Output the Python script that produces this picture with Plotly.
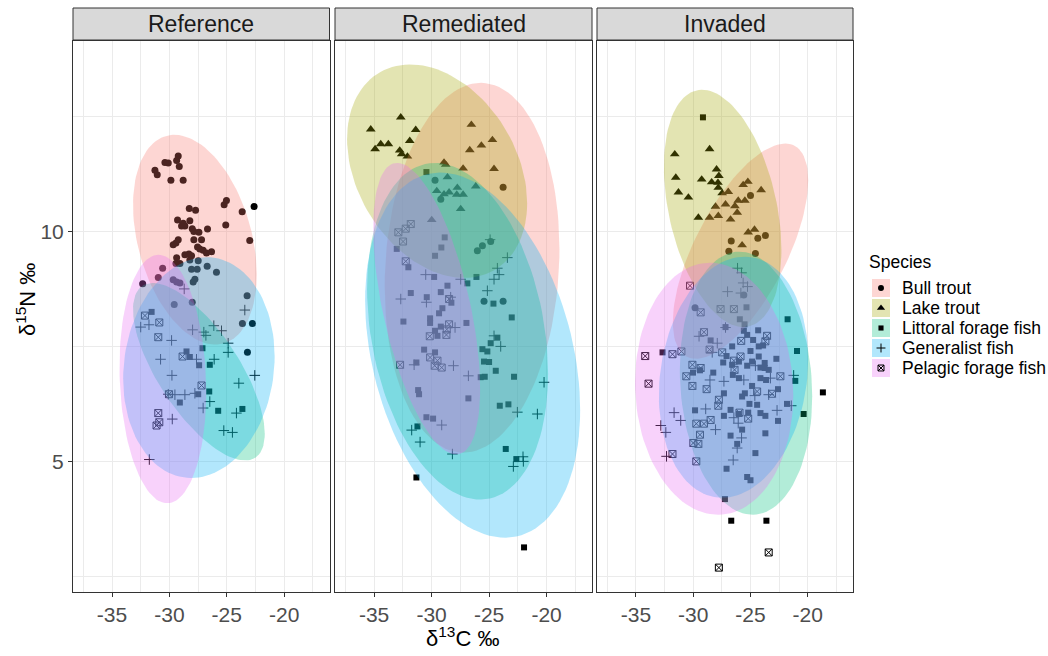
import numpy as np
import plotly.graph_objects as go

# ---- categories and styling keys ----
species = ["Bull trout", "Lake trout", "Littoral forage fish", "Generalist fish", "Pelagic forage fish"]
species_colors = ["#F8766D", "#A3A500", "#00BF7D", "#00B0F6", "#E76BF3"]
species_symbols = ["circle", "triangle-up", "square", "cross-thin-open", "square-x-open"]
sites = ["Reference", "Remediated", "Invaded"]
x_ticks = [-35, -30, -25, -20]
x_tick_labels = ["-35", "-30", "-25", "-20"]
y_ticks = [5, 10]
y_tick_labels = ["5", "10"]

# ---- isotope values (d13C, d15N) per site and species ----
ref_bull = [(-29.23, 11.65), (-29.37, 11.55), (-29.14, 11.42), (-30.39, 11.51), (-30.10, 11.50), (-31.26, 11.34),
            (-31.06, 11.24), (-29.87, 11.12), (-28.80, 11.12), (-25.03, 10.68), (-25.23, 10.59), (-22.62, 10.55),
            (-23.66, 10.44), (-28.27, 10.51), (-27.72, 10.47), (-25.09, 10.15), (-29.29, 10.26), (-28.80, 10.19),
            (-28.22, 10.24), (-28.65, 10.13), (-28.94, 10.13), (-28.01, 10.07), (-27.87, 10.01), (-27.43, 9.99),
            (-26.68, 10.06), (-23.00, 9.81), (-27.87, 9.83), (-27.20, 9.83), (-29.23, 9.83), (-29.43, 9.76),
            (-29.67, 9.72), (-27.55, 9.67), (-27.35, 9.63), (-27.06, 9.60), (-26.33, 9.57), (-26.77, 9.54),
            (-28.65, 9.50), (-28.30, 9.52), (-28.07, 9.48), (-29.37, 9.44), (-29.43, 9.31), (-29.08, 9.31),
            (-28.22, 9.39), (-27.49, 9.37), (-30.59, 9.21), (-28.07, 9.19), (-27.58, 9.19), (-26.71, 9.25),
            (-25.90, 9.12), (-27.78, 8.97), (-27.93, 8.91), (-30.97, 9.01), (-29.67, 8.96), (-29.37, 8.91),
            (-29.08, 8.89), (-32.33, 8.87), (-23.23, 8.61), (-29.58, 8.42), (-28.01, 8.47), (-23.64, 8.01),
            (-22.77, 8.01), (-23.20, 7.38)]
ref_lake = []
ref_littoral = [(-31.55, 8.26), (-28.51, 7.40), (-28.22, 7.28), (-27.12, 7.47), (-27.41, 7.10), (-26.48, 7.11),
                (-26.53, 6.53), (-27.49, 6.47), (-29.09, 6.29), (-25.75, 6.11), (-23.64, 6.15)]
ref_generalist = [(-28.71, 8.76), (-23.43, 8.30), (-32.50, 7.93), (-31.78, 7.98), (-26.13, 7.96), (-25.46, 7.85),
                  (-27.98, 7.87), (-27.00, 7.82), (-26.82, 7.75), (-29.81, 7.64), (-24.88, 7.58), (-24.88, 7.38),
                  (-26.10, 7.23), (-30.77, 7.23), (-27.64, 7.23), (-29.78, 6.88), (-22.56, 6.88), (-23.95, 6.71),
                  (-30.10, 6.47), (-29.52, 6.46), (-28.65, 6.46), (-27.78, 6.49), (-26.48, 6.31), (-27.06, 6.17),
                  (-24.16, 6.06), (-29.75, 5.93), (-25.26, 5.68), (-24.51, 5.64), (-31.75, 5.05)]
ref_pelagic = [(-32.13, 8.18), (-30.88, 8.03), (-30.97, 7.71), (-28.85, 7.29), (-27.20, 6.66), (-30.04, 6.47),
               (-30.97, 6.06), (-30.88, 5.86), (-31.12, 5.79)]

rem_bull = [(-29.70, 11.12), (-29.20, 10.71), (-23.78, 10.97), (-26.02, 9.59), (-25.58, 9.70), (-24.86, 9.79),
            (-25.44, 8.49), (-23.78, 8.49)]
rem_lake = [(-35.29, 12.23), (-32.68, 12.49), (-31.38, 12.22), (-31.90, 11.98), (-34.42, 11.91), (-33.76, 11.91),
            (-34.91, 11.80), (-32.77, 11.77), (-32.60, 11.69), (-32.10, 11.64), (-26.54, 12.33), (-24.71, 12.00),
            (-25.67, 11.88), (-26.68, 11.78), (-28.92, 11.51), (-28.77, 11.46), (-27.26, 11.38), (-24.57, 11.37),
            (-28.62, 11.19), (-27.76, 10.96), (-29.55, 10.89), (-26.16, 10.99), (-28.48, 10.86), (-28.92, 10.82),
            (-27.81, 10.81), (-27.26, 10.81), (-27.47, 10.50), (-29.99, 10.26)]
rem_littoral = [(-30.45, 11.30), (-28.86, 9.88), (-33.03, 9.63), (-29.15, 9.66), (-29.70, 9.48), (-32.02, 9.23),
                (-29.78, 9.02), (-28.62, 8.83), (-26.89, 8.88), (-26.10, 9.02), (-31.81, 8.67), (-30.42, 8.58),
                (-29.20, 8.69), (-28.28, 8.46), (-29.06, 8.34), (-29.35, 8.23), (-30.13, 8.12), (-30.13, 8.02),
                (-32.45, 8.05), (-26.97, 8.02), (-24.62, 8.44), (-23.03, 8.14), (-29.20, 7.94), (-29.70, 7.85),
                (-29.49, 7.74), (-24.28, 7.70), (-24.86, 7.58), (-25.58, 7.45), (-25.15, 7.40), (-30.65, 7.44),
                (-29.70, 7.38), (-31.32, 7.16), (-31.17, 6.56), (-31.09, 6.47), (-26.80, 6.38), (-30.45, 5.97),
                (-29.87, 5.94), (-31.23, 5.77), (-25.73, 6.84), (-25.38, 6.85), (-24.42, 6.98), (-22.83, 6.85),
                (-25.44, 7.18), (-25.00, 7.17), (-24.07, 6.22), (-23.32, 6.25), (-23.55, 5.28), (-22.63, 5.06),
                (-31.32, 4.66), (-21.96, 3.14)]
rem_generalist = [(-24.91, 9.83), (-23.41, 9.44), (-24.28, 9.21), (-24.13, 9.07), (-24.57, 8.97), (-30.51, 9.07),
                  (-27.47, 8.97), (-25.15, 8.72), (-32.68, 8.54), (-30.45, 8.47), (-28.34, 8.58), (-27.96, 7.92),
                  (-24.57, 7.74), (-23.99, 7.51), (-31.52, 7.11), (-28.10, 7.09), (-26.80, 6.87), (-20.22, 6.73),
                  (-22.54, 6.08), (-20.80, 6.04), (-29.12, 5.80), (-31.73, 5.69), (-31.00, 5.43), (-28.19, 5.17),
                  (-22.05, 5.11), (-22.02, 5.01), (-22.89, 4.90)]
rem_pelagic = [(-31.81, 10.17), (-32.25, 10.07), (-32.89, 9.99), (-32.48, 9.79), (-32.25, 9.36), (-28.48, 8.54),
               (-28.48, 7.99), (-28.68, 7.88), (-30.16, 7.73), (-28.71, 7.76), (-32.74, 7.11), (-30.13, 7.27),
               (-29.49, 7.20), (-29.73, 7.09), (-29.12, 7.05)]

inv_bull = [(-25.00, 10.79), (-23.70, 9.92), (-24.36, 9.86), (-26.68, 9.80), (-26.89, 9.58), (-24.57, 9.53),
            (-25.58, 8.63), (-29.84, 8.35)]
inv_lake = [(-31.61, 11.69), (-28.57, 11.80), (-27.96, 11.36), (-27.76, 11.22), (-31.52, 11.18), (-29.26, 11.14),
            (-28.39, 11.08), (-27.84, 11.07), (-27.81, 10.96), (-31.29, 10.86), (-30.42, 10.75), (-27.47, 10.84),
            (-26.94, 10.87), (-25.64, 11.02), (-25.23, 11.09), (-24.07, 10.91), (-28.05, 10.55), (-27.18, 10.60),
            (-26.36, 10.56), (-26.07, 10.68), (-25.49, 10.68), (-26.16, 10.42), (-29.55, 10.31), (-28.57, 10.31),
            (-27.81, 10.35), (-26.74, 10.27), (-25.20, 9.99), (-24.65, 10.05), (-25.73, 9.71)]
inv_littoral = [(-29.15, 12.49), (-25.35, 8.36), (-25.93, 8.10), (-25.52, 7.99), (-27.18, 7.93), (-25.58, 7.85),
                (-24.33, 7.86), (-25.29, 7.76), (-24.77, 7.65), (-28.48, 7.64), (-26.60, 7.51), (-24.28, 7.51),
                (-23.90, 7.53), (-25.00, 7.41), (-27.09, 7.30), (-22.74, 7.24), (-20.94, 7.41), (-21.76, 8.10),
                (-27.38, 7.16), (-24.28, 7.29), (-24.86, 7.18), (-25.29, 7.09), (-23.76, 7.15), (-23.41, 7.00),
                (-24.13, 7.05), (-23.76, 7.04), (-26.60, 7.11), (-26.01, 7.18), (-28.25, 6.94), (-29.41, 6.99),
                (-30.02, 6.94), (-26.54, 6.89), (-26.01, 6.82), (-24.13, 6.82), (-23.64, 6.78), (-24.86, 6.65),
                (-22.60, 6.58), (-25.49, 6.49), (-27.32, 6.49), (-25.73, 6.42), (-25.09, 6.26), (-24.42, 6.24),
                (-26.74, 6.13), (-27.32, 6.00), (-25.20, 6.07), (-24.13, 6.06), (-23.70, 6.00), (-22.60, 5.89),
                (-26.01, 6.04), (-29.84, 6.12), (-21.81, 6.26), (-25.73, 5.70), (-26.74, 5.57), (-26.16, 5.39),
                (-23.70, 5.62), (-24.57, 5.19), (-27.09, 4.85), (-25.29, 4.67), (-25.00, 4.60), (-27.23, 4.19),
                (-21.09, 6.76), (-32.68, 7.38), (-18.68, 6.51), (-20.36, 6.04), (-26.68, 3.72), (-23.61, 3.72)]
inv_generalist = [(-26.13, 9.21), (-25.78, 9.11), (-25.64, 8.89), (-25.26, 8.81), (-27.00, 8.70), (-25.84, 8.67),
                  (-29.49, 7.73), (-27.90, 7.58), (-28.34, 7.38), (-27.18, 7.92), (-24.57, 7.09), (-21.23, 6.88),
                  (-23.26, 6.82), (-28.54, 6.78), (-27.32, 6.75), (-25.58, 6.78), (-23.41, 6.46), (-21.44, 6.22),
                  (-22.68, 6.12), (-31.67, 6.07), (-31.09, 5.90), (-32.83, 5.79), (-32.39, 5.64), (-32.33, 5.12),
                  (-28.91, 6.15), (-28.05, 5.70), (-26.07, 5.84), (-25.78, 5.52), (-26.16, 5.30), (-26.51, 5.04),
                  (-24.62, 6.44), (-26.45, 5.96)]
inv_pelagic = [(-30.28, 8.83), (-29.35, 8.25), (-27.61, 8.32), (-26.45, 8.32), (-29.06, 7.82), (-23.55, 7.74),
               (-23.70, 7.62), (-25.81, 7.63), (-28.57, 7.44), (-27.47, 7.38), (-25.87, 7.29), (-31.81, 7.34),
               (-31.03, 7.40), (-34.19, 7.30), (-33.90, 6.70), (-30.07, 7.11), (-29.35, 7.04), (-30.60, 6.86),
               (-30.07, 6.65), (-28.83, 6.58), (-22.39, 6.86), (-24.42, 6.53), (-23.12, 6.48), (-27.76, 6.35),
               (-27.81, 6.22), (-28.48, 5.91), (-29.06, 5.83), (-29.73, 5.83), (-25.20, 5.94), (-25.96, 6.07),
               (-29.41, 5.59), (-29.99, 5.41), (-29.55, 5.39), (-31.81, 5.17), (-29.73, 5.01), (-23.41, 3.03),
               (-27.76, 2.70), (-26.39, 7.00), (-26.45, 7.20)]

# ---- 95% normal ellipse summaries per site (species order): mean, half-spans, correlation ----
ref_ell_cx = [-27.78, None, -27.43, -27.43, -30.57]
ref_ell_cy = [9.83, None, 6.96, 7.05, 6.80]
ref_ell_hx = [5.39, None, 5.74, 6.60, 3.78]
ref_ell_hy = [2.28, None, 1.93, 2.40, 2.70]
ref_ell_r = [-0.33, None, -0.70, 0.10, -0.10]

rem_ell_cx = [-26.48, -29.52, -27.74, -26.43, -30.43]
rem_ell_cy = [9.22, 11.32, 7.84, 7.32, 8.33]
rem_ell_hx = [7.60, 7.83, 7.87, 9.35, 4.65]
rem_ell_hy = [4.02, 2.32, 3.66, 3.97, 3.17]
rem_ell_r = [0.10, -0.30, -0.25, -0.30, -0.55]

inv_ell_cx = [-25.87, -27.43, -25.39, -26.48, -28.17]
inv_ell_cy = [9.58, 10.51, 6.71, 6.84, 6.59]
inv_ell_hx = [5.91, 5.13, 5.78, 6.52, 6.91]
inv_ell_hy = [2.34, 2.58, 2.86, 2.62, 2.74]
inv_ell_r = [0.66, -0.35, -0.10, 0.15, -0.05]

site_points = [
    [ref_bull, ref_lake, ref_littoral, ref_generalist, ref_pelagic],
    [rem_bull, rem_lake, rem_littoral, rem_generalist, rem_pelagic],
    [inv_bull, inv_lake, inv_littoral, inv_generalist, inv_pelagic],
]
site_ellipses = [
    (ref_ell_cx, ref_ell_cy, ref_ell_hx, ref_ell_hy, ref_ell_r),
    (rem_ell_cx, rem_ell_cy, rem_ell_hx, rem_ell_hy, rem_ell_r),
    (inv_ell_cx, inv_ell_cy, inv_ell_hx, inv_ell_hy, inv_ell_r),
]

# ---- page geometry (pixels) ----
W, H = 1048, 656
panel_px = [(73, 329.5), (335, 592), (597, 853)]
panel_top, panel_bottom = 41, 592
strip_top, strip_bottom = 8, 40
x_range = [-38.4, -16.05]
y_range = [2.17, 14.15]

FONT = "Liberation Sans, Arial, sans-serif"
GRID = "#EBEBEB"
FRAME = "#333333"


def rgba(hex_color, a):
    h = hex_color.lstrip("#")
    return "rgba(%d,%d,%d,%.2f)" % (int(h[0:2], 16), int(h[2:4], 16), int(h[4:6], 16), a)


def marker_style(k, size_scale=1.0):
    sym = species_symbols[k]
    sizes = {"circle": 7, "triangle-up": 8.5, "square": 6, "cross-thin-open": 7.5, "square-x-open": 7}
    m = dict(symbol=sym, size=sizes[sym] * size_scale, color="black")
    if sym.endswith("open"):
        m["line"] = dict(color="black", width=1)
    else:
        m["line"] = dict(width=0)
    return m


def ellipse_path(cx, cy, hx, hy, r, n=121):
    t = np.linspace(0, 2 * np.pi, n)
    u = np.cos(t)
    v = r * u + np.sqrt(1 - r * r) * np.sin(t)
    return cx + hx * u, cy + hy * v


fig = go.Figure()
y_dom = [1 - panel_bottom / H, 1 - panel_top / H]

for i, site in enumerate(sites):
    xa = "x" if i == 0 else "x%d" % (i + 1)
    ya = "y" if i == 0 else "y%d" % (i + 1)
    # points underneath
    for k, pts in enumerate(site_points[i]):
        if not pts:
            continue
        xs = [p[0] for p in pts]
        ys = [p[1] for p in pts]
        fig.add_trace(go.Scatter(x=xs, y=ys, mode="markers", marker=marker_style(k),
                                 xaxis=xa, yaxis=ya, hoverinfo="skip", showlegend=False))
    # translucent ellipses on top
    cxs, cys, hxs, hys, rs = site_ellipses[i]
    for k in range(len(species)):
        if cxs[k] is None:
            continue
        ex, ey = ellipse_path(cxs[k], cys[k], hxs[k], hys[k], rs[k])
        fig.add_trace(go.Scatter(x=ex, y=ey, mode="lines", fill="toself",
                                 fillcolor=rgba(species_colors[k], 0.3), line=dict(width=0),
                                 xaxis=xa, yaxis=ya, hoverinfo="skip", showlegend=False))

layout = dict(
    width=W, height=H, margin=dict(l=0, r=0, t=0, b=0),
    paper_bgcolor="white", plot_bgcolor="white", showlegend=False,
    font=dict(family=FONT, color="#1A1A1A"),
)

tick_font = dict(family=FONT, size=21, color="#4D4D4D")
for i in range(3):
    x0, x1 = panel_px[i]
    xkey = "xaxis" if i == 0 else "xaxis%d" % (i + 1)
    ykey = "yaxis" if i == 0 else "yaxis%d" % (i + 1)
    layout[xkey] = dict(
        domain=[x0 / W, x1 / W], range=x_range, anchor="y" if i == 0 else "y%d" % (i + 1),
        tickmode="array", tickvals=x_ticks, ticktext=x_tick_labels,
        ticks="outside", ticklen=4, tickwidth=1, tickcolor=FRAME, tickfont=tick_font,
        showgrid=True, gridcolor=GRID, gridwidth=1.1,
        minor=dict(tickmode="array", tickvals=[-37.5, -32.5, -27.5, -22.5, -17.5],
                   showgrid=True, gridcolor=GRID, gridwidth=0.55, ticks=""),
        showline=True, mirror=True, linecolor=FRAME, linewidth=1,
        zeroline=False, automargin=False, fixedrange=True,
    )
    layout[ykey] = dict(
        domain=y_dom, range=y_range, anchor="x" if i == 0 else "x%d" % (i + 1),
        tickmode="array", tickvals=y_ticks, ticktext=y_tick_labels,
        ticks="outside" if i == 0 else "", ticklen=4, tickwidth=1, tickcolor=FRAME,
        showticklabels=(i == 0), tickfont=tick_font,
        showgrid=True, gridcolor=GRID, gridwidth=1.1,
        minor=dict(tickmode="array", tickvals=[2.5, 7.5, 12.5],
                   showgrid=True, gridcolor=GRID, gridwidth=0.55, ticks=""),
        showline=True, mirror=True, linecolor=FRAME, linewidth=1,
        zeroline=False, automargin=False, fixedrange=True,
    )

# legend drawn on its own small hidden axes
leg_top, leg_bottom = 278, 378
layout["xaxis4"] = dict(domain=[872 / W, 890 / W], range=[0, 1], visible=False, fixedrange=True, anchor="y4")
layout["yaxis4"] = dict(domain=[1 - leg_bottom / H, 1 - leg_top / H], range=[4.5, -0.5], visible=False,
                        fixedrange=True, anchor="x4")

shapes = []
annotations = []
for i, site in enumerate(sites):
    x0, x1 = panel_px[i]
    shapes.append(dict(type="rect", xref="paper", yref="paper",
                       x0=x0 / W, x1=x1 / W, y0=1 - strip_bottom / H, y1=1 - strip_top / H,
                       fillcolor="#D9D9D9", line=dict(color=FRAME, width=1)))
    annotations.append(dict(text=site, xref="paper", yref="paper", x=(x0 + x1) / 2 / W,
                            y=1 - (strip_top + strip_bottom) / 2 / H, xanchor="center", yanchor="middle",
                            showarrow=False, font=dict(family=FONT, size=23, color="#1A1A1A")))

for k, name in enumerate(species):
    shapes.append(dict(type="rect", xref="x4", yref="y4", x0=0, x1=1, y0=k - 0.45, y1=k + 0.45,
                       fillcolor=rgba(species_colors[k], 0.3), line=dict(width=0), layer="below"))
    fig.add_trace(go.Scatter(x=[0.5], y=[k], mode="markers", marker=marker_style(k, 0.85),
                             xaxis="x4", yaxis="y4", hoverinfo="skip", showlegend=False))
    annotations.append(dict(text=name, xref="x4", yref="y4", x=1, y=k, xanchor="left", yanchor="middle",
                            xshift=10, showarrow=False, font=dict(family=FONT, size=17.5, color="black")))

annotations.append(dict(text="Species", xref="paper", yref="paper", x=867 / W, y=1 - 262 / H,
                        xanchor="left", yanchor="middle", showarrow=False,
                        font=dict(family=FONT, size=17.5, color="black")))
annotations.append(dict(text="δ<sup>13</sup>C ‰", xref="paper", yref="paper", x=463 / W, y=1 - 637 / H,
                        xanchor="center", yanchor="middle", showarrow=False,
                        font=dict(family=FONT, size=22, color="black")))
annotations.append(dict(text="δ<sup>15</sup>N ‰", xref="paper", yref="paper", x=26 / W, y=1 - 300 / H,
                        xanchor="center", yanchor="middle", textangle=-90, showarrow=False,
                        font=dict(family=FONT, size=22, color="black")))

layout["shapes"] = shapes
layout["annotations"] = annotations
fig.update_layout(**layout)

fig.write_html("out.html")
